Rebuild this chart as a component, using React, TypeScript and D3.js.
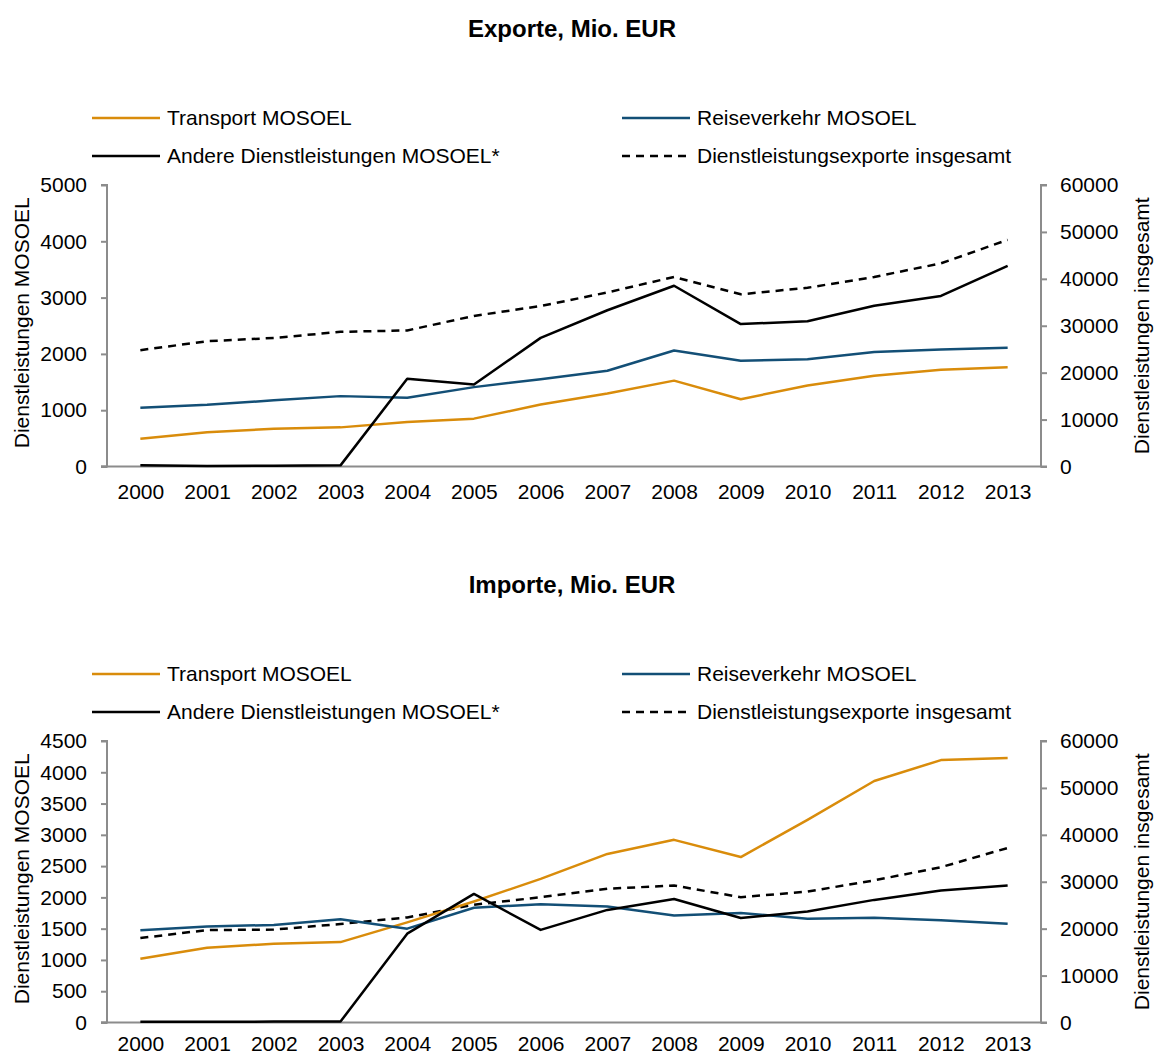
import React, { useEffect, useRef } from "react";
import * as d3 from "d3";

const years = ["2000", "2001", "2002", "2003", "2004", "2005", "2006", "2007", "2008", "2009", "2010", "2011", "2012", "2013"];

// Exporte
const expTransport = [495, 610, 670, 695, 790, 850, 1100, 1295, 1525, 1195, 1440, 1610, 1720, 1765];
const expReise = [1045, 1095, 1175, 1250, 1220, 1410, 1550, 1700, 2060, 1880, 1905, 2035, 2080, 2110];
const expAndere = [20, 10, 15, 20, 1560, 1455, 2285, 2775, 3210, 2530, 2580, 2855, 3030, 3565];
const expTotal = [24800, 26700, 27400, 28700, 29000, 32100, 34200, 37100, 40400, 36700, 38100, 40400, 43300, 48300];

// Importe
const impTransport = [1020, 1195, 1260, 1285, 1600, 1935, 2295, 2695, 2920, 2645, 3240, 3860, 4195, 4230];
const impReise = [1475, 1535, 1560, 1650, 1500, 1835, 1890, 1855, 1710, 1750, 1660, 1675, 1635, 1580];
const impAndere = [10, 10, 15, 15, 1420, 2055, 1480, 1800, 1975, 1670, 1775, 1960, 2110, 2190];
const impTotal = [18000, 19700, 19800, 21000, 22400, 25100, 26700, 28500, 29200, 26700, 27900, 30300, 33100, 37200];

const expLeftTicks = [0, 1000, 2000, 3000, 4000, 5000];
const impLeftTicks = [0, 500, 1000, 1500, 2000, 2500, 3000, 3500, 4000, 4500];
const rightTicks = [0, 10000, 20000, 30000, 40000, 50000, 60000];

const legendNames = ["Transport MOSOEL", "Reiseverkehr MOSOEL", "Andere Dienstleistungen MOSOEL*", "Dienstleistungsexporte insgesamt"];

const ORANGE = "#D98C0B";
const BLUE = "#134F76";
const BLACK = "#000000";
const FONT = "Liberation Sans, Arial, sans-serif";
const FS = 21;

type Panel = {
  title: string;
  top: number;
  transport: number[];
  reise: number[];
  andere: number[];
  total: number[];
  leftMax: number;
  leftTicks: number[];
  xPad: number;
};

const panels: Panel[] = [
  { title: "Exporte, Mio. EUR", top: 0, transport: expTransport, reise: expReise, andere: expAndere, total: expTotal, leftMax: 5000, leftTicks: expLeftTicks, xPad: 18 },
  { title: "Importe, Mio. EUR", top: 556, transport: impTransport, reise: impReise, andere: impAndere, total: impTotal, leftMax: 4500, leftTicks: impLeftTicks, xPad: 14 },
];

const App = () => {
  const ref = useRef<SVGSVGElement>(null);

  useEffect(() => {
    const svg = d3.select(ref.current);
    svg.selectAll("*").remove();

    const plotLeft = 107;
    const plotRight = 1041;

    panels.forEach((p) => {
      const g = svg.append("g").attr("transform", `translate(0,${p.top})`);
      const plotTop = 185;
      const plotBottom = 466.5;

      const x = d3.scalePoint<string>().domain(years).range([plotLeft, plotRight]).padding(0.5);
      const yL = d3.scaleLinear().domain([0, p.leftMax]).range([plotBottom, plotTop]);
      const yR = d3.scaleLinear().domain([0, 60000]).range([plotBottom, plotTop]);

      // title
      g.append("text")
        .attr("x", 572)
        .attr("y", 37)
        .attr("text-anchor", "middle")
        .attr("font-family", FONT)
        .attr("font-weight", "bold")
        .attr("font-size", 24)
        .text(p.title);

      // legend
      const legendItems = [
        { name: legendNames[0], color: ORANGE, dash: null, lx: 92, ly: 118 },
        { name: legendNames[1], color: BLUE, dash: null, lx: 622, ly: 118 },
        { name: legendNames[2], color: BLACK, dash: null, lx: 92, ly: 156 },
        { name: legendNames[3], color: BLACK, dash: "8,6", lx: 622, ly: 156 },
      ];
      legendItems.forEach((it) => {
        g.append("line")
          .attr("x1", it.lx)
          .attr("x2", it.lx + 68)
          .attr("y1", it.ly)
          .attr("y2", it.ly)
          .attr("stroke", it.color)
          .attr("stroke-width", 2.5)
          .attr("stroke-dasharray", it.dash);
        g.append("text")
          .attr("x", it.lx + 75)
          .attr("y", it.ly + 7)
          .attr("font-family", FONT)
          .attr("font-size", FS)
          .text(it.name);
      });

      // axes
      const axisColor = "#8c8c8c";
      const leftAxis = g.append("g")
        .attr("transform", `translate(${plotLeft},0)`)
        .call(d3.axisLeft(yL).tickValues(p.leftTicks).tickSize(6).tickPadding(14).tickFormat(d3.format("d")));
      const rightAxis = g.append("g")
        .attr("transform", `translate(${plotRight},0)`)
        .call(d3.axisRight(yR).tickValues(rightTicks).tickSize(6).tickPadding(13).tickFormat(d3.format("d")));
      [leftAxis, rightAxis].forEach((a) => {
        a.select(".domain").attr("stroke", axisColor).attr("stroke-width", 2);
        a.selectAll(".tick line").attr("stroke", axisColor).attr("stroke-width", 2);
        a.selectAll(".tick text").attr("font-family", FONT).attr("font-size", FS).attr("fill", "#000");
      });
      leftAxis.select(".domain").attr("d", `M-6,${plotTop}H0V${plotBottom}H-6`);
      rightAxis.select(".domain").attr("d", `M6,${plotTop}H0V${plotBottom}H6`);

      const bottomAxis = g.append("g")
        .attr("transform", `translate(0,${plotBottom})`)
        .call(d3.axisBottom(x).tickSize(0).tickPadding(p.xPad));
      bottomAxis.select(".domain").attr("stroke", axisColor).attr("stroke-width", 2)
        .attr("d", `M${plotLeft - 6},0H${plotRight}`);
      bottomAxis.selectAll(".tick text").attr("font-family", FONT).attr("font-size", FS).attr("fill", "#000");

      // axis titles
      g.append("text")
        .attr("transform", `translate(29,${(plotTop + plotBottom) / 2 - 3}) rotate(-90)`)
        .attr("text-anchor", "middle")
        .attr("font-family", FONT)
        .attr("font-size", FS)
        .text("Dienstleistungen MOSOEL");
      g.append("text")
        .attr("transform", `translate(1149,${(plotTop + plotBottom) / 2}) rotate(-90)`)
        .attr("text-anchor", "middle")
        .attr("font-family", FONT)
        .attr("font-size", FS)
        .text("Dienstleistungen insgesamt");

      const lineL = d3.line<number>().x((_, i) => x(years[i]) as number).y((d) => yL(d));
      const lineR = d3.line<number>().x((_, i) => x(years[i]) as number).y((d) => yR(d));

      const series = [
        { data: p.total, gen: lineR, color: BLACK, dash: "8,6" },
        { data: p.transport, gen: lineL, color: ORANGE, dash: null },
        { data: p.reise, gen: lineL, color: BLUE, dash: null },
        { data: p.andere, gen: lineL, color: BLACK, dash: null },
      ];
      series.forEach((s) => {
        g.append("path")
          .datum(s.data)
          .attr("fill", "none")
          .attr("stroke", s.color)
          .attr("stroke-width", 2.5)
          .attr("stroke-linejoin", "round")
          .attr("stroke-dasharray", s.dash)
          .attr("d", s.gen);
      });
    });
  }, []);

  return <svg ref={ref} width={1159} height={1057} style={{ position: "absolute", left: 0, top: 0, background: "#fff" }} />;
};

export default App;
